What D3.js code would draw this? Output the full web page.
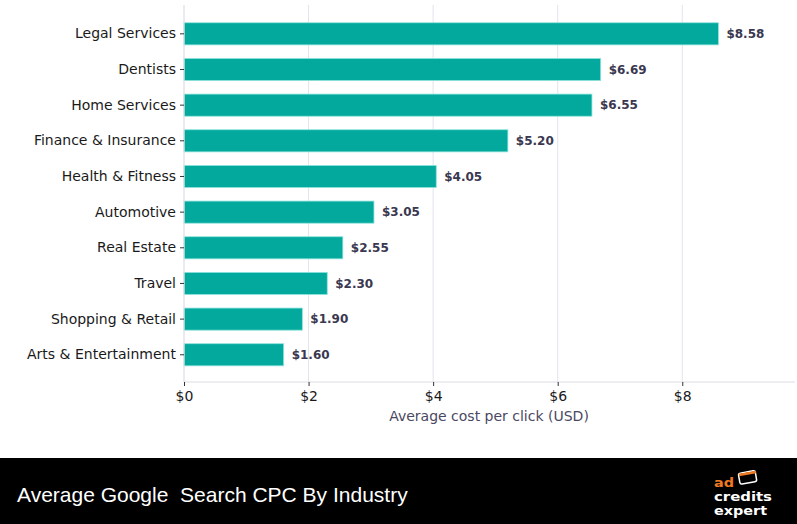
<!DOCTYPE html>
<html><head><meta charset="utf-8">
<script src="https://cdn.jsdelivr.net/npm/d3@7"></script>
<style>body{margin:0;background:#fff}svg{display:block}</style>
</head><body>
<svg id="c" width="797" height="524"></svg>
<script>
const categories = ["Legal Services","Dentists","Home Services","Finance & Insurance","Health & Fitness","Automotive","Real Estate","Travel","Shopping & Retail","Arts & Entertainment"];
const values = [8.58, 6.69, 6.55, 5.20, 4.05, 3.05, 2.55, 2.30, 1.90, 1.60];
const xTicks = [0, 2, 4, 6, 8];
const xTitle = "Average cost per click (USD)";
const footerTitle = "Average Google\u00a0 Search CPC By Industry";

(function () {
const svg = d3.select("#c");
const x = d3.scaleLinear().domain([0, 9.81]).range([184, 795]);
const y = d3.scaleBand().domain(categories).range([16.0, 372.6]).paddingInner(0.38).paddingOuter(0.19);
const plotTop = 5, plotBottom = 382;

// grid
svg.append("g").selectAll("line").data(xTicks.filter(d => d > 0)).join("line")
  .attr("x1", d => x(d)).attr("x2", d => x(d)).attr("y1", plotTop).attr("y2", plotBottom)
  .attr("stroke", "#e3e3ee").attr("stroke-width", 1);

// bars
svg.append("g").selectAll("rect").data(values).join("rect")
  .attr("x", x(0)).attr("y", (d, i) => y(categories[i]))
  .attr("width", d => x(d) - x(0)).attr("height", y.bandwidth())
  .attr("fill", "#02a99c").attr("stroke", "#8fe3dc").attr("stroke-width", 0.8);

// value labels
svg.append("g").selectAll("text").data(values).join("text")
  .attr("x", d => x(d) + 8).attr("y", (d, i) => y(categories[i]) + y.bandwidth() / 2)
  .attr("dy", "0.35em").attr("font-family", "DejaVu Sans").attr("font-weight", "bold")
  .attr("font-size", 12).attr("fill", "#3a3850").text(d => "$" + d.toFixed(2));

// axes lines
svg.append("line").attr("x1", x(0)).attr("x2", x(0)).attr("y1", plotTop).attr("y2", plotBottom)
  .attr("stroke", "#dcdce6").attr("stroke-width", 1.2);
svg.append("line").attr("x1", x(0)).attr("x2", 795).attr("y1", plotBottom).attr("y2", plotBottom)
  .attr("stroke", "#dcdce6").attr("stroke-width", 1.2);

// y axis
const yAxis = svg.append("g").attr("transform", `translate(${x(0)},0)`)
  .call(d3.axisLeft(y).tickSize(4).tickPadding(4));
yAxis.select(".domain").remove();
yAxis.selectAll(".tick line").attr("stroke", "#333");
yAxis.selectAll("text").attr("font-family", "DejaVu Sans").attr("font-size", 14).attr("fill", "#1a1a1a");

// x axis
const xAxis = svg.append("g").attr("transform", `translate(0,${plotBottom})`)
  .call(d3.axisBottom(x).tickValues(xTicks).tickFormat(d => "$" + d).tickSize(4).tickPadding(5));
xAxis.select(".domain").remove();
xAxis.selectAll(".tick line").attr("stroke", "#333");
xAxis.selectAll("text").attr("font-family", "DejaVu Sans").attr("font-size", 14).attr("fill", "#1a1a1a");

svg.append("text").attr("x", 489).attr("y", 421).attr("text-anchor", "middle")
  .attr("font-family", "DejaVu Sans").attr("font-size", 14).attr("fill", "#4a4862").text(xTitle);

// footer
svg.append("rect").attr("x", 0).attr("y", 458).attr("width", 797).attr("height", 66).attr("fill", "#000");
svg.append("text").attr("x", 17).attr("y", 502).attr("font-family", "Liberation Sans Narrow, Liberation Sans, Arial")
  .attr("font-size", 21).attr("fill", "#fff").text(footerTitle);

// logo
const lg = svg.append("g");
lg.append("text").attr("x", 714).attr("y", 487).attr("font-family", "DejaVu Sans").attr("font-weight", "bold")
  .attr("font-size", 12).attr("textLength", 20).attr("lengthAdjust", "spacingAndGlyphs").attr("fill", "#f07a22").text("ad");
lg.append("rect").attr("x", 739).attr("y", 472).attr("width", 17).attr("height", 11).attr("rx", 2)
  .attr("transform", "rotate(-10 747 477)").attr("fill", "none").attr("stroke", "#fff").attr("stroke-width", 1.5);
lg.append("line").attr("x1", 739).attr("x2", 756).attr("y1", 475).attr("y2", 472)
  .attr("stroke", "#f07a22").attr("stroke-width", 2.5);
lg.append("text").attr("x", 714).attr("y", 501).attr("font-family", "DejaVu Sans").attr("font-weight", "bold")
  .attr("font-size", 12).attr("textLength", 58).attr("lengthAdjust", "spacingAndGlyphs").attr("fill", "#fff").text("credits");
lg.append("text").attr("x", 714).attr("y", 515).attr("font-family", "DejaVu Sans").attr("font-weight", "bold")
  .attr("font-size", 12).attr("textLength", 53).attr("lengthAdjust", "spacingAndGlyphs").attr("fill", "#fff").text("expert");
})();
</script>
</body></html>
